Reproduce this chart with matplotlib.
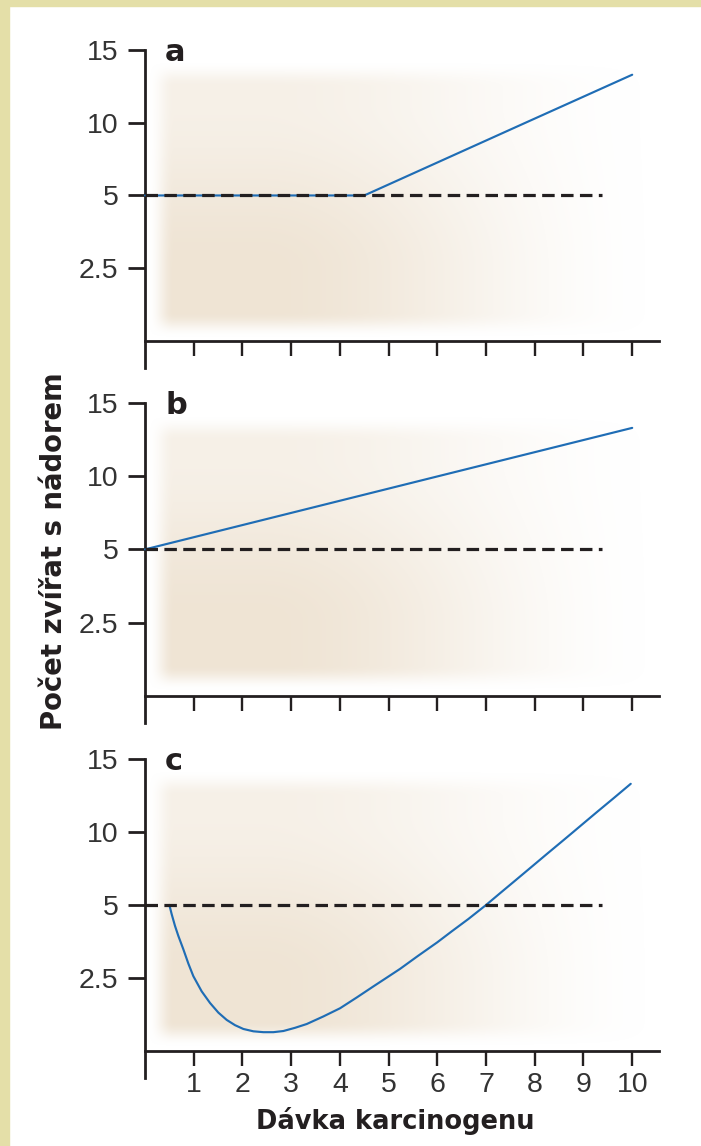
import numpy as np
import matplotlib
matplotlib.use("Agg")
import matplotlib.pyplot as plt
from matplotlib.patches import Rectangle

# ---------------- data ----------------
x_ticks = [1, 2, 3, 4, 5, 6, 7, 8, 9, 10]
y_ticks = [2.5, 5, 10, 15]
y_tick_labels = ["2.5", "5", "10", "15"]
panel_labels = ["a", "b", "c"]

threshold_x = [0, 9.37]
threshold_y = [5, 5]

# panel a: threshold model (flat, then linear rise)
a_x = [0, 4.5, 7.81, 10.0]
a_y = [5, 5, 10, 13.3]
# panel b: linear, no threshold
b_x = [0, 6.02, 10.0]
b_y = [5, 10, 13.3]
# panel c: hormesis (J-shaped)
c_x = [0.50, 0.548, 0.616, 0.684, 0.787, 0.890, 0.992, 1.163, 1.335, 1.506,
       1.677, 1.848, 2.019, 2.224, 2.430, 2.635, 2.840, 3.080, 3.320, 3.662,
       4.004, 4.347, 4.689, 4.963, 5.236, 5.60, 6.00, 6.30, 6.639, 7.002,
       7.29, 7.563, 7.906, 8.248, 8.59, 8.79, 8.932, 9.274, 9.617, 9.97]
c_y = [5.0, 4.68, 4.28, 3.94, 3.48, 2.99, 2.56, 2.04, 1.64, 1.31,
       1.06, 0.88, 0.75, 0.67, 0.64, 0.64, 0.68, 0.79, 0.92, 1.18,
       1.46, 1.83, 2.21, 2.51, 2.81, 3.25, 3.72, 4.10, 4.52, 5.0,
       5.81, 6.57, 7.53, 8.49, 9.44, 10.0, 10.4, 11.36, 12.31, 13.3]

xlabel = "Dávka karcinogenu"
ylabel = "Počet zvířat s nádorem"

# ---------------- styling ----------------
W, H = 701, 1146
BLUE = "#1f6db5"
INK = "#231f20"
TICKC = "#333333"
BORDER = "#e4dfa8"
BEIGE = (0.94, 0.895, 0.835)

plt.rcParams["lines.scale_dashes"] = False
tick_font = ["Liberation Sans", "DejaVu Sans"]

# piecewise-linear y scale (equal spacing of 2.5, 5, 10, 15)
V = np.array([-10.0, 0.0, 2.5, 5.0, 10.0, 15.0, 40.0])
P = np.array([-5.0, -1.0, 0.0, 1.0, 2.0, 3.0, 8.0])


def fwd(v):
    return np.interp(v, V, P)


def inv(p):
    return np.interp(p, P, V)


fig = plt.figure(figsize=(W / 100, H / 100), dpi=100)
fig.patch.set_facecolor("white")

# border stripes
fig.patches.append(Rectangle((0, 0), 9 / W, 1, transform=fig.transFigure,
                             color=BORDER, zorder=0))
fig.patches.append(Rectangle((0, 1 - 6 / H), 1, 6 / H, transform=fig.transFigure,
                             color=BORDER, zorder=0))

# panel geometry in pixels: (axes top, axes bottom, x-axis line)
panels = [(50, 368, 342), (403, 723, 695), (759, 1078, 1051)]
series = [(a_x, a_y), (b_x, b_y), (c_x, c_y)]

left_px, right_px = 145, 659


def soft_bg(nw=400, nh=200):
    xs = np.linspace(0, 1, nw)
    ys = np.linspace(0, 1, nh)  # 0 = top
    X, Y = np.meshgrid(xs, ys)

    def ss(t):
        t = np.clip(t, 0, 1)
        return t * t * (3 - 2 * t)
    edge = ss(X / 0.05) * ss(Y / 0.09) * ss((1 - Y) / 0.09)
    hfade = 1 - ss((X - 0.22) / 0.78)
    vfac = 0.55 + 0.45 * ss((Y - 0.15) / 0.6)
    alpha = edge * hfade * vfac
    img = np.zeros((nh, nw, 4))
    img[..., 0] = BEIGE[0]
    img[..., 1] = BEIGE[1]
    img[..., 2] = BEIGE[2]
    img[..., 3] = np.clip(alpha, 0, 1)
    return img


for i, ((top, bot, xax), (sx, sy)) in enumerate(zip(panels, series)):
    # background soft gradient
    bg_top = top + 12
    bg_bot = xax - 4
    bg_left, bg_right = 148, 660
    bax = fig.add_axes([bg_left / W, 1 - bg_bot / H,
                        (bg_right - bg_left) / W, (bg_bot - bg_top) / H])
    bax.imshow(soft_bg(), aspect="auto", extent=[0, 1, 0, 1],
               interpolation="bilinear")
    bax.set_axis_off()

    ax = fig.add_axes([left_px / W, 1 - bot / H,
                       (right_px - left_px) / W, (bot - top) / H])
    ax.patch.set_visible(False)
    ax.set_yscale("function", functions=(fwd, inv))
    ax.set_xlim(0, 10.55)
    ax.set_ylim(-0.93, 15)

    ax.plot(sx, sy, color=BLUE, lw=1.55, solid_capstyle="round",
            solid_joinstyle="round", zorder=3, clip_on=False)
    ax.plot(threshold_x, threshold_y, color=INK, lw=2.3,
            dashes=(9.0, 4.6), zorder=4, dash_capstyle="butt")

    for s in ("top", "right"):
        ax.spines[s].set_visible(False)
    ax.spines["bottom"].set_position(("data", 0))
    for s in ("left", "bottom"):
        ax.spines[s].set_linewidth(2.0)
        ax.spines[s].set_color(INK)

    ax.set_yticks(y_ticks, y_tick_labels)
    ax.set_xticks(x_ticks, [str(t) for t in x_ticks])
    ax.minorticks_off()
    ax.tick_params(axis="y", direction="out", length=12, width=2.0,
                   color=INK, pad=7, labelsize=20.5, labelcolor=TICKC)
    ax.tick_params(axis="x", direction="out", length=11, width=1.7,
                   color=INK, pad=4, labelsize=20.5, labelcolor=TICKC,
                   labelbottom=(i == 2))
    for lab in ax.get_xticklabels() + ax.get_yticklabels():
        lab.set_family(tick_font)

    fig.text(165 / W, 1 - (top + 11) / H, panel_labels[i],
             fontsize=22, fontweight="bold", color=INK, ha="left",
             va="baseline", family=["DejaVu Sans"])

fig.text(395 / W, 1 - 1121 / H, xlabel, ha="center", va="center",
         fontsize=18.5, fontweight="bold", color=INK,
         family=["DejaVu Sans"])
fig.text(54 / W, 1 - 551 / H, ylabel, ha="center", va="center",
         rotation=90, fontsize=19.8, fontweight="bold", color=INK,
         family=["DejaVu Sans"])

fig.savefig("out.png", dpi=100, facecolor="white")
